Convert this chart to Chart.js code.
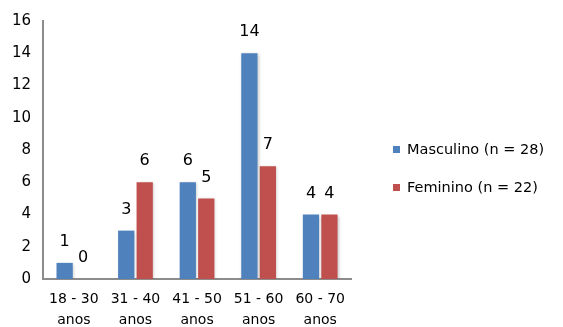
<!DOCTYPE html>
<html>
<head>
<meta charset="utf-8">
<script src="https://cdn.jsdelivr.net/npm/chart.js@4/dist/chart.umd.min.js"></script>
<style>
  html, body { margin: 0; padding: 0; background: #fff; }
  #wrap { width: 563px; height: 327px; }
</style>
</head>
<body>
<div id="wrap"><canvas id="c" width="563" height="327"></canvas></div>
<script>
const categories = [["18 - 30", "anos"], ["31 - 40", "anos"], ["41 - 50", "anos"], ["51 - 60", "anos"], ["60 - 70", "anos"]];
const masculino = [1, 3, 6, 14, 4];
const feminino = [0, 6, 5, 7, 4];
const seriesNames = ["Masculino (n = 28)", "Feminino (n = 22)"];
const yTicks = [0, 2, 4, 6, 8, 10, 12, 14, 16];

const FONT = "'DejaVu Sans', Verdana, sans-serif";

// Value labels above each bar
const valueLabels = {
  id: 'valueLabels',
  afterDatasetsDraw(chart) {
    const ctx = chart.ctx;
    ctx.save();
    ctx.font = "16px " + FONT;
    ctx.fillStyle = '#000';
    ctx.textAlign = 'center';
    ctx.textBaseline = 'middle';
    chart.data.datasets.forEach((ds, i) => {
      chart.getDatasetMeta(i).data.forEach((bar, j) => {
        ctx.fillText(String(ds.data[j]), bar.x, bar.y - 21);
      });
    });
    ctx.restore();
  }
};

// Legend on the right, drawn next to the plot
const sideLegend = {
  id: 'sideLegend',
  afterDraw(chart) {
    const ctx = chart.ctx;
    const area = chart.chartArea;
    const x0 = area.right + 42;
    const yc = (area.top + area.bottom) / 2 + 19;
    ctx.save();
    ctx.font = "14.5px " + FONT;
    ctx.textBaseline = 'middle';
    ctx.textAlign = 'left';
    chart.data.datasets.forEach((ds, i) => {
      const y = yc + (i - 0.5) * 38;
      ctx.fillStyle = ds.backgroundColor;
      ctx.fillRect(x0, y - 4, 7, 7);
      ctx.fillStyle = '#000';
      ctx.fillText(ds.label, x0 + 14, y);
    });
    ctx.restore();
  }
};

// Soft shadow behind the bars
const barShadow = {
  id: 'barShadow',
  beforeDatasetsDraw(chart) {
    chart.ctx.save();
    chart.ctx.shadowColor = 'rgba(0,0,0,0.22)';
    chart.ctx.shadowBlur = 3;
    chart.ctx.shadowOffsetX = 1;
    chart.ctx.shadowOffsetY = 1;
  },
  afterDatasetsDraw(chart) {
    chart.ctx.restore();
  }
};

new Chart(document.getElementById('c'), {
  type: 'bar',
  data: {
    labels: categories,
    datasets: [
      { label: seriesNames[0], data: masculino, backgroundColor: '#4F81BD', borderColor: '#ffffff', borderWidth: 0 },
      { label: seriesNames[1], data: feminino, backgroundColor: '#C0504D', borderColor: '#ffffff', borderWidth: 0 }
    ]
  },
  options: {
    responsive: false,
    animation: false,
    devicePixelRatio: 1,
    layout: { padding: { top: 10, left: 0, right: 212, bottom: 0 } },
    datasets: { bar: { categoryPercentage: 0.6, barPercentage: 0.88 } },
    plugins: {
      tooltip: { enabled: false },
      legend: { display: false }
    },
    scales: {
      x: {
        afterFit(axis) { axis.height = 48; },
        grid: { display: false, drawTicks: false },
        border: { display: true, color: '#8c8c8c', width: 2 },
        ticks: { font: { family: FONT, size: 14, lineHeight: 1.5 }, color: '#000', padding: 10, maxRotation: 0 }
      },
      y: {
        min: 0,
        max: 16,
        afterBuildTicks(axis) { axis.ticks = yTicks.map(v => ({ value: v })); },
        grid: { display: false, drawTicks: false },
        border: { display: true, color: '#8c8c8c', width: 2 },
        ticks: { font: { family: FONT, size: 15 }, color: '#000', padding: 12 }
      }
    }
  },
  plugins: [barShadow, valueLabels, sideLegend]
});
</script>
</body>
</html>
